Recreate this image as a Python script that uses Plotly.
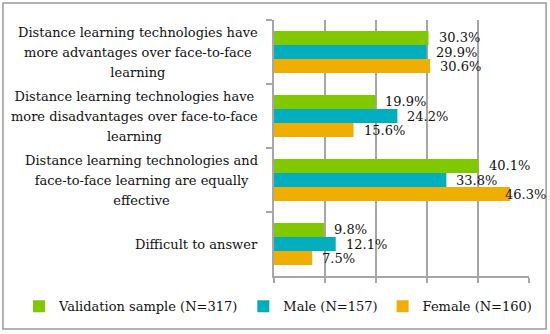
import plotly.graph_objects as go

categories = [
    "Distance learning technologies have<br>more advantages over face-to-face<br>learning",
    "Distance learning technologies have<br>more disadvantages over face-to-face<br>learning",
    "Distance learning technologies and<br>face-to-face learning are equally<br>effective",
    "Difficult to answer",
]
series_names = ["Validation sample (N=317)", "Male (N=157)", "Female (N=160)"]
validation = [30.3, 19.9, 40.1, 9.8]
male = [29.9, 24.2, 33.8, 12.1]
female = [30.6, 15.6, 46.3, 7.5]
colors = ["#80C800", "#00AEBD", "#F0AE00"]

FONT = "Palatino Linotype, Book Antiqua, Palatino, DejaVu Serif, serif"
GRID = "#A6A6A6"

fig = go.Figure()
all_series = [validation, male, female]
for name, vals, col in zip(series_names, all_series, colors):
    fig.add_trace(go.Bar(
        y=categories, x=vals, name=name, orientation="h",
        marker=dict(color=col, line=dict(width=0)),
        showlegend=True, hoverinfo="skip",
    ))

# value labels (placed at bar end, kept inside the chart frame)
n = len(series_names)
bargap = 0.34
slot = (1 - bargap) / n
for k, vals in enumerate(all_series):
    for i, v in enumerate(vals):
        ypos = i - (1 - bargap) / 2 + slot * (k + 0.5)
        fig.add_annotation(
            x=min(v, 43.3), y=ypos, xref="x", yref="y",
            text=f"{v:.1f}%", showarrow=False, xanchor="left", yanchor="middle",
            xshift=8,
            font=dict(family=FONT, size=13, color="#111111"),
        )

# category labels: block right-aligned to the axis, lines centred, wider line spacing
for i, c in enumerate(categories):
    lines = c.split("<br>")
    txt = "<br>".join(f"<span style='font-size:13px'>{ln}</span>" for ln in lines)
    fig.add_annotation(
        x=0, y=i, xref="paper", yref="y", text=txt, showarrow=False,
        xanchor="right", yanchor="middle", align="center", xshift=-14,
        font=dict(family=FONT, size=15.4, color="#111111"),
    )

fig.update_layout(
    width=550, height=334,
    margin=dict(l=274, r=21, t=20, b=58, autoexpand=False),
    barmode="group", bargap=bargap, bargroupgap=0,
    paper_bgcolor="white", plot_bgcolor="white",
    font=dict(family=FONT, size=13, color="#111111"),
    showlegend=True, hovermode=False,
    legend=dict(orientation="h", x=-1.0, xanchor="left", y=-0.118, yanchor="middle",
                font=dict(family=FONT, size=13), traceorder="normal"),
)
fig.update_xaxes(range=[0, 50], dtick=10, showticklabels=False, showgrid=True,
                 gridcolor=GRID, gridwidth=1.5, showline=True, linecolor=GRID,
                 linewidth=1.5, ticks="outside", ticklen=5, tickcolor=GRID, tickwidth=1.5,
                 zeroline=False, automargin=False)
fig.update_yaxes(autorange="reversed", showline=True, linecolor=GRID, linewidth=1.5,
                 ticks="outside", ticklen=6, tickcolor=GRID, tickwidth=1.5,
                 tickson="boundaries", showticklabels=False, automargin=False)
fig.add_shape(type="rect", xref="paper", yref="paper",
              x0=-1.063, x1=1.067, y0=-0.207, y1=1.066,
              line=dict(color="#9A9A9A", width=1.5), fillcolor="rgba(0,0,0,0)")

fig.write_html("out.html", config={"displayModeBar": False},
               post_script="document.body.style.margin='0';")
